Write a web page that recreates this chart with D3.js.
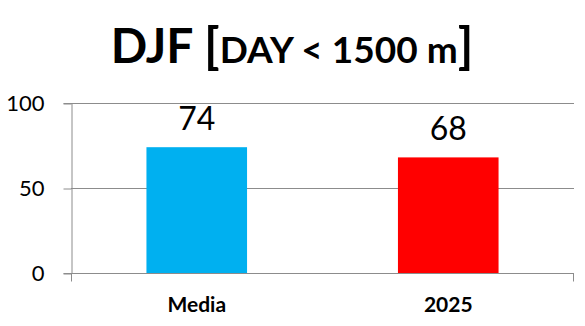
<!DOCTYPE html>
<html>
<head>
<meta charset="utf-8">
<script src="https://cdn.jsdelivr.net/npm/d3@7"></script>
<style>
  html, body { margin: 0; padding: 0; background: #fff; }
  svg { display: block; font-family: Lato, "Open Sans", sans-serif; }
</style>
</head>
<body>
<svg id="chart" width="585" height="326"></svg>
<script>
// Days below 1500 m, winter season (DJF)
const categories = ["Media", "2025"];
const values = [74, 68];
const barColors = ["#00B0F0", "#FF0000"];
const yTicks = [0, 50, 100];

const svg = d3.select("#chart");
const margin = { left: 71, right: 11, top: 103, bottom: 53 };
const W = 585, H = 326;

const x = d3.scaleBand()
  .domain(categories)
  .range([margin.left, W - margin.right])
  .paddingInner(0.6)
  .paddingOuter(0.3);

const y = d3.scaleLinear()
  .domain([0, 100])
  .range([H - margin.bottom, margin.top]);

// horizontal gridlines
svg.append("g")
  .selectAll("line")
  .data(yTicks.filter(d => d > 0))
  .join("line")
  .attr("x1", margin.left)
  .attr("x2", W - margin.right)
  .attr("y1", d => Math.round(y(d)) + 0.5)
  .attr("y2", d => Math.round(y(d)) + 0.5)
  .attr("stroke", "#8c8c8c")
  .attr("stroke-width", 1);

// y axis
const yAxis = svg.append("g")
  .attr("transform", `translate(${margin.left + 0.5},0)`)
  .call(d3.axisLeft(y).tickValues(yTicks).tickSize(8).tickPadding(19)
    .tickFormat(d3.format("d")));
yAxis.select(".domain").attr("stroke", "#8c8c8c");
yAxis.selectAll(".tick line").attr("stroke", "#8c8c8c")
  .attr("transform", d => `translate(0,${Math.round(y(d)) + 0.5 - y(d)})`);
yAxis.selectAll(".tick text")
  .attr("font-size", 22)
  .attr("font-family", "Lato, sans-serif")
  .attr("fill", "#000")
  .attr("dy", "0.36em");

// x axis baseline with edge ticks
const baseY = Math.round(y(0)) + 0.5;
const xAxisG = svg.append("g");
xAxisG.append("line")
  .attr("x1", margin.left).attr("x2", W - margin.right)
  .attr("y1", baseY).attr("y2", baseY)
  .attr("stroke", "#8c8c8c");
xAxisG.selectAll("line.edge")
  .data([margin.left + 0.5, W - margin.right - 0.5])
  .join("line")
  .attr("class", "edge")
  .attr("x1", d => d).attr("x2", d => d)
  .attr("y1", baseY).attr("y2", baseY + 8)
  .attr("stroke", "#8c8c8c");

// bars
svg.append("g")
  .selectAll("rect")
  .data(values)
  .join("rect")
  .attr("x", (d, i) => x(categories[i]))
  .attr("width", x.bandwidth())
  .attr("y", d => y(d))
  .attr("height", d => y(0) - y(d))
  .attr("fill", (d, i) => barColors[i]);

// value labels
svg.append("g")
  .selectAll("text")
  .data(values)
  .join("text")
  .attr("x", (d, i) => x(categories[i]) + x.bandwidth() / 2)
  .attr("y", d => y(d) - 17)
  .attr("text-anchor", "middle")
  .attr("font-size", 32)
  .attr("fill", "#000")
  .text(d => d);

// category labels
svg.append("g")
  .selectAll("text")
  .data(categories)
  .join("text")
  .attr("x", d => x(d) + x.bandwidth() / 2)
  .attr("y", 312)
  .attr("text-anchor", "middle")
  .attr("font-size", 21)
  .attr("font-weight", "bold")
  .attr("fill", "#000")
  .text(d => d);

// title
const title = svg.append("text")
  .attr("x", 292)
  .attr("y", 63)
  .attr("text-anchor", "middle")
  .attr("font-weight", "bold")
  .attr("fill", "#000");
title.append("tspan").attr("font-size", 48).text("DJF ");
title.append("tspan").attr("font-size", 50).text("[");
title.append("tspan").attr("font-size", 37).text("DAY < 1500 m");
title.append("tspan").attr("font-size", 50).text("]");
</script>
</body>
</html>
